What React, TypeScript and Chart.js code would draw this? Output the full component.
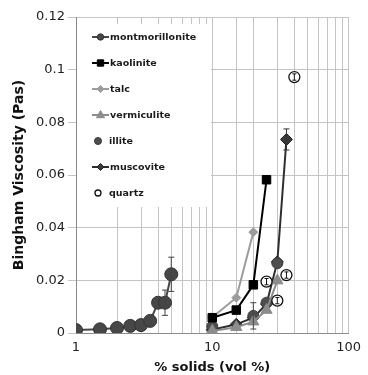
import React, { useEffect, useRef } from 'react';
import { Chart, registerables } from 'chart.js';

Chart.register(...registerables);

// ---- data ----
const montX = [1, 1.5, 2, 2.5, 3, 3.5, 4, 4.5, 5];
const montY = [0.0011, 0.0014, 0.0019, 0.0027, 0.003, 0.0046, 0.0115, 0.0115, 0.0223];
const montErr = [0, 0, 0, 0, 0, 0.0015, 0, 0.0048, 0.0065];

const kaolX = [10, 15, 20, 25];
const kaolY = [0.0058, 0.0087, 0.0183, 0.0582];

const talcX = [10, 15, 20];
const talcY = [0.006, 0.0134, 0.0383];

const vermX = [10, 15, 20, 25, 30];
const vermY = [0.0008, 0.0022, 0.0043, 0.0087, 0.0199];

const illX = [10, 20, 25, 30];
const illY = [0.0025, 0.0065, 0.0115, 0.0265];
const illErr = [0, 0.005, 0, 0];

const muscX = [10, 15, 20, 25, 30, 35];
const muscY = [0.0012, 0.0033, 0.0058, 0.011, 0.027, 0.0735];
const muscErr = [0, 0, 0, 0, 0, 0.004];

const quartzX = [25, 30, 35, 40];
const quartzY = [0.0195, 0.0123, 0.022, 0.0972];
const quartzErr = [0.0012, 0.0012, 0.0012, 0.0012];

const xTickLabels = [1, 10, 100];
const yTickLabels = ['0', '0.02', '0.04', '0.06', '0.08', '0.1', '0.12'];

const pts = (xs: number[], ys: number[]) => xs.map((x, i) => ({ x, y: ys[i] }));

function drawMarker(ctx: CanvasRenderingContext2D, style: string, x: number, y: number, r: number, fill: string, stroke: string, lw: number) {
  ctx.save();
  ctx.fillStyle = fill;
  ctx.strokeStyle = stroke;
  ctx.lineWidth = lw;
  ctx.beginPath();
  if (style === 'circle') {
    ctx.arc(x, y, r, 0, Math.PI * 2);
  } else if (style === 'rect') {
    const s = r * Math.SQRT1_2;
    ctx.rect(x - s, y - s, 2 * s, 2 * s);
  } else if (style === 'rectRot') {
    ctx.moveTo(x, y - r);
    ctx.lineTo(x + r, y);
    ctx.lineTo(x, y + r);
    ctx.lineTo(x - r, y);
    ctx.closePath();
  } else if (style === 'triangle') {
    ctx.moveTo(x, y - r);
    ctx.lineTo(x + r * 0.9, y + r * 0.6);
    ctx.lineTo(x - r * 0.9, y + r * 0.6);
    ctx.closePath();
  }
  ctx.fill();
  if (lw > 0) ctx.stroke();
  ctx.restore();
}

const legendBoxPlugin = {
  id: 'legendBox',
  beforeDatasetsDraw(chart: any) {
    const { ctx, chartArea } = chart;
    const left = chartArea.left;
    const top = chartArea.top;
    ctx.save();
    ctx.fillStyle = '#ffffff';
    ctx.fillRect(left + 1, top + 7, 134, 183);
    ctx.font = 'bold 9.5px "DejaVu Sans"';
    ctx.textBaseline = 'middle';
    ctx.textAlign = 'left';
    chart.data.datasets.forEach((ds: any, i: number) => {
      const y = top + 20 + i * 26;
      let mx = left + 24.5;
      if (ds.showLine !== false) {
        ctx.strokeStyle = ds.borderColor;
        ctx.lineWidth = 2;
        ctx.beginPath();
        ctx.moveTo(left + 16, y);
        ctx.lineTo(left + 33, y);
        ctx.stroke();
      } else {
        mx = left + 22;
      }
      drawMarker(ctx, ds.pointStyle, mx, y, ds.legendRadius, ds.pointBackgroundColor, ds.pointBorderColor, ds.pointBorderWidth);
      ctx.fillStyle = '#1a1a1a';
      ctx.fillText(ds.label, ds.showLine !== false ? left + 34 : left + 33, y + 0.5);
    });
    ctx.restore();
  },
};

const errorBarPlugin = {
  id: 'errorBars',
  afterDatasetsDraw(chart: any) {
    const { ctx } = chart;
    const yScale = chart.scales.y;
    chart.data.datasets.forEach((ds: any, di: number) => {
      if (!ds.errors) return;
      const meta = chart.getDatasetMeta(di);
      ctx.save();
      ctx.strokeStyle = ds.errorColor;
      ctx.lineWidth = 1;
      ds.errors.forEach((e: number, i: number) => {
        if (!e) return;
        const el = meta.data[i];
        const v = ds.data[i].y;
        const y1 = yScale.getPixelForValue(v + e);
        const y2 = yScale.getPixelForValue(v - e);
        const x = el.x;
        const cw = ds.errorCap;
        ctx.beginPath();
        ctx.moveTo(x, y1);
        ctx.lineTo(x, y2);
        ctx.moveTo(x - cw, y1);
        ctx.lineTo(x + cw, y1);
        ctx.moveTo(x - cw, y2);
        ctx.lineTo(x + cw, y2);
        ctx.stroke();
      });
      ctx.restore();
    });
  },
};

export default function App() {
  const canvasRef = useRef<HTMLCanvasElement | null>(null);

  useEffect(() => {
    document.body.style.margin = '0';
    const canvas = canvasRef.current;
    if (!canvas) return;
    const chart = new Chart(canvas, {
      type: 'scatter',
      data: {
        datasets: [
          {
            label: 'montmorillonite',
            data: pts(montX, montY),
            showLine: true,
            borderColor: '#474747',
            borderWidth: 2,
            pointStyle: 'circle',
            pointRadius: 6.5,
            pointBackgroundColor: '#474747',
            pointBorderColor: '#333333',
            pointBorderWidth: 1,
            legendRadius: 3.2,
            errors: montErr,
            errorColor: '#444444',
            errorCap: 3,
          } as any,
          {
            label: 'kaolinite',
            data: pts(kaolX, kaolY),
            showLine: true,
            borderColor: '#000000',
            borderWidth: 2,
            pointStyle: 'rect',
            pointRadius: 6,
            pointBackgroundColor: '#000000',
            pointBorderColor: '#000000',
            pointBorderWidth: 1,
            legendRadius: 4.5,
          } as any,
          {
            label: 'talc',
            data: pts(talcX, talcY),
            showLine: true,
            borderColor: '#9c9c9c',
            borderWidth: 2,
            pointStyle: 'rectRot',
            pointRadius: 4.5,
            pointBackgroundColor: '#9c9c9c',
            pointBorderColor: '#9c9c9c',
            pointBorderWidth: 1,
            legendRadius: 3.5,
          } as any,
          {
            label: 'vermiculite',
            data: pts(vermX, vermY),
            showLine: true,
            borderColor: '#8c8c8c',
            borderWidth: 2,
            pointStyle: 'triangle',
            pointRadius: 6.5,
            pointBackgroundColor: '#8c8c8c',
            pointBorderColor: '#8c8c8c',
            pointBorderWidth: 1,
            legendRadius: 4.5,
          } as any,
          {
            label: 'illite',
            data: pts(illX, illY),
            showLine: false,
            borderColor: '#4d4d4d',
            pointStyle: 'circle',
            pointRadius: 5.5,
            pointBackgroundColor: '#4d4d4d',
            pointBorderColor: '#3a3a3a',
            pointBorderWidth: 1,
            legendRadius: 3.5,
            errors: illErr,
            errorColor: '#444444',
            errorCap: 3,
          } as any,
          {
            label: 'muscovite',
            data: pts(muscX, muscY),
            showLine: true,
            borderColor: '#2e2e2e',
            borderWidth: 2,
            pointStyle: 'rectRot',
            pointRadius: 6,
            pointBackgroundColor: '#3a3a3a',
            pointBorderColor: '#222222',
            pointBorderWidth: 1,
            legendRadius: 3.5,
            errors: muscErr,
            errorColor: '#333333',
            errorCap: 3,
          } as any,
          {
            label: 'quartz',
            data: pts(quartzX, quartzY),
            showLine: false,
            borderColor: '#000000',
            pointStyle: 'circle',
            pointRadius: 5.5,
            pointBackgroundColor: '#ffffff',
            pointBorderColor: '#111111',
            pointBorderWidth: 1.3,
            legendRadius: 3,
            order: -1,
            errors: quartzErr,
            errorColor: '#111111',
            errorCap: 2,
          } as any,
        ],
      },
      options: {
        animation: false,
        responsive: true,
        maintainAspectRatio: false,
        layout: { padding: { top: 17, right: 12, left: 0, bottom: 0 } },
        plugins: {
          legend: { display: false },
          tooltip: { enabled: false },
        },
        scales: {
          x: {
            type: 'logarithmic',
            min: 1,
            max: 100,
            afterFit: (s: any) => {
              s.height = 42;
            },
            grid: { color: '#c4c4c4', lineWidth: 1, drawTicks: false },
            border: { color: '#8a8a8a', width: 1 },
            ticks: {
              autoSkip: false,
              maxRotation: 0,
              padding: 7,
              color: '#222222',
              font: { family: '"DejaVu Sans"', size: 13 },
              callback: (v: any) => (xTickLabels.includes(Number(v)) ? String(v) : ''),
            },
            title: {
              display: true,
              text: '% solids (vol %)',
              color: '#111111',
              font: { family: '"DejaVu Sans"', size: 13, weight: 'bold' },
              padding: { top: 0, bottom: 0 },
            },
          },
          y: {
            type: 'linear',
            min: 0,
            max: 0.12,
            afterFit: (s: any) => {
              s.width = 76;
            },
            grid: { color: '#c4c4c4', lineWidth: 1, tickLength: 8 },
            border: { color: '#8a8a8a', width: 1 },
            ticks: {
              stepSize: 0.02,
              padding: 3,
              color: '#222222',
              font: { family: '"DejaVu Sans"', size: 13 },
              callback: (v: any, i: number) => yTickLabels[i] ?? '',
            },
            title: {
              display: true,
              text: 'Bingham Viscosity (Pas)',
              color: '#111111',
              font: { family: '"DejaVu Sans"', size: 14, weight: 'bold' },
              padding: { top: 10.5, bottom: 0 },
            },
          },
        },
      } as any,
      plugins: [legendBoxPlugin, errorBarPlugin],
    });
    return () => chart.destroy();
  }, []);

  return (
    <div style={{ width: 368, height: 375, position: 'relative' }}>
      <canvas ref={canvasRef} />
    </div>
  );
}
